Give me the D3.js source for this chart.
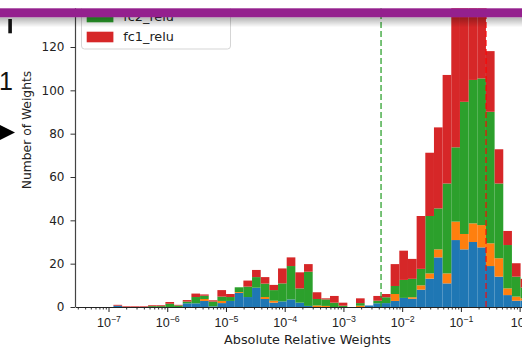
<!DOCTYPE html>
<html>
<head>
<meta charset="utf-8">
<script src="https://cdn.jsdelivr.net/npm/d3@7"></script>
<style>
  body { margin: 0; background: #fff; }
  svg { display: block; font-family: "DejaVu Sans", sans-serif; }
</style>
</head>
<body>
<div id="chart"></div>
<script>
// log-spaced histogram bins: log10 of first left edge and the bin step (in decades)
const binStartExp = -6.916;
const binStepExp = 0.1475;

// counts per bin, stacked bottom to top (blue, orange, green = fc2_relu, red = fc1_relu)
const blueCounts = [
  0.6, 0, 0, 0, 0, 0, 0, 0,
  1.7, 1.7, 2.8, 0.3, 1.8, 2.8, 6.5, 4.6, 8.9, 3.7,
  2.0, 2.6, 3.5, 2.0, 0.5, 0, 0, 0, 0, 0,
  0, 0.7, 1.7, 1.8, 2.8, 4.2, 3.8, 8.0, 13.1, 22.9,
  10.9, 30.9, 26.6, 30.0, 27.5, 18.9, 14.0, 5.5, 2.9, 3.0
];
const orangeCounts = [
  0, 0, 0, 0, 0, 0, 0, 0,
  0, 0, 0.9, 0, 1.0, 0, 0.4, 0, 0, 0.9,
  0.9, 0, 0, 0, 0, 0.7, 0.5, 0, 0, 0,
  0.6, 0, 0, 0, 3.2, 0, 0.7, 2.0, 2.4, 3.7,
  4.6, 8.5, 7.1, 8.6, 10.3, 10.5, 8.5, 3.1, 1.9, 1.0
];
const fc2Counts = [
  0, 0, 0, 0, 0.4, 0.4, 1.5, 0.7,
  0.8, 2.9, 1.5, 2.2, 2.0, 1.8, 2.2, 4.8, 4.9, 6.2,
  4.9, 8.3, 15.4, 6.6, 15.8, 3.0, 3.0, 2.0, 0.6, 0,
  1.2, 0, 1.2, 2.7, 3.7, 8.3, 8.5, 7.6, 26.5, 18.9,
  41.5, 34.3, 61.0, 66.2, 67.7, 60.7, 34.5, 20.0, 9.2, 5.0
];
const fc1Counts = [
  0.4, 0.3, 0.3, 0.3, 0.4, 0.4, 0.8, 0.3,
  0.7, 1.6, 0.6, 0.6, 3.0, 1.4, 0, 2.8, 3.3, 3.0,
  2.4, 6.9, 4.0, 7.4, 3.5, 3.1, 0.5, 3.1, 1.4, 0,
  2.2, 0, 2.2, 1.5, 10.1, 13.5, 9.2, 24.4, 29.2, 37.4,
  50.1, 66.3, 55.3, 50.2, 39.5, 28.0, 15.8, 6.5, 6.2, 4.0
];

const seriesKeys = ['blue', 'orange', 'fc2_relu', 'fc1_relu'];
const seriesColors = ['#1f77b4', '#ff7f0e', '#2ca02c', '#d62728'];
const legendItems = ['fc2_relu', 'fc1_relu'];

// threshold lines
const greenThreshold = 0.00437;
const redThreshold = 0.268;

const yTicks = [0, 20, 40, 60, 80, 100, 120];
const majorExps = [-7, -6, -5, -4, -3, -2, -1, 0];

const W = 522, H = 349;
const svg = d3.select('#chart').append('svg')
  .attr('width', W)
  .attr('height', H);

const x = d3.scaleLog()
  .domain([10 ** -7.562, 10 ** 0.049])
  .range([75.5, 522.5]);

const y = d3.scaleLinear()
  .domain([0, 120])
  .range([307, 47]);

// rows for the stack
const rows = blueCounts.map((b, i) => ({
  lo: 10 ** (binStartExp + i * binStepExp),
  hi: 10 ** (binStartExp + (i + 1) * binStepExp),
  blue: b,
  orange: orangeCounts[i],
  fc2_relu: fc2Counts[i],
  fc1_relu: fc1Counts[i]
}));

const stacked = d3.stack().keys(seriesKeys)(rows);

const bars = svg.append('g').attr('class', 'bars');
stacked.forEach((layer, li) => {
  bars.append('g')
    .attr('fill', seriesColors[li])
    .selectAll('rect')
    .data(layer.filter(d => d[1] - d[0] > 0))
    .enter()
    .append('rect')
    .attr('x', d => x(d.data.lo))
    .attr('width', d => x(d.data.hi) - x(d.data.lo))
    .attr('y', d => y(d[1]))
    .attr('height', d => y(d[0]) - y(d[1]));
});

// dashed threshold lines
svg.append('line')
  .attr('x1', x(greenThreshold)).attr('x2', x(greenThreshold))
  .attr('y1', y(0)).attr('y2', -60)
  .attr('stroke', '#2ca02c')
  .attr('stroke-opacity', 0.85)
  .attr('stroke-width', 1.5)
  .attr('stroke-dasharray', '6,3');

svg.append('line')
  .attr('x1', x(redThreshold)).attr('x2', x(redThreshold))
  .attr('y1', y(0)).attr('y2', -60)
  .attr('stroke', '#ff0000')
  .attr('stroke-opacity', 0.75)
  .attr('stroke-width', 1.5)
  .attr('stroke-dasharray', '6,3');

// x axis (log): minor ticks then major ticks
const minorVals = [];
for (let p = -8; p <= 0; p++) {
  for (let m = 2; m <= 9; m++) {
    const v = m * 10 ** p;
    if (v > x.domain()[0] && v < x.domain()[1]) minorVals.push(v);
  }
}

const xMinor = svg.append('g')
  .attr('transform', 'translate(0,' + y(0) + ')')
  .call(d3.axisBottom(x).tickValues(minorVals).tickSize(2.5).tickSizeOuter(0).tickFormat(''));
xMinor.select('.domain').remove();
xMinor.selectAll('line').attr('stroke', '#333');

const xMajor = svg.append('g')
  .attr('transform', 'translate(0,' + y(0) + ')')
  .call(d3.axisBottom(x).tickValues(majorExps.map(e => 10 ** e)).tickSize(5).tickSizeOuter(0).tickFormat(''));
xMajor.select('.domain').attr('stroke', '#222').attr('stroke-width', 1.2);
xMajor.selectAll('line').attr('stroke', '#222');

xMajor.selectAll('.tick').each(function (d) {
  const t = d3.select(this).append('text')
    .attr('y', 20)
    .attr('fill', '#222')
    .attr('font-size', '12.5px')
    .attr('text-anchor', 'middle');
  t.append('tspan').text('10');
  t.append('tspan')
    .attr('dy', -5.5)
    .attr('font-size', '8.8px')
    .text(String(Math.round(Math.log10(d))).replace('-', '\u2212'));
});

// y axis
const yAxisG = svg.append('g')
  .attr('transform', 'translate(75.5,0)')
  .call(d3.axisLeft(y).tickValues(yTicks).tickSize(5).tickSizeOuter(0).tickPadding(6));
yAxisG.select('.domain')
  .attr('d', 'M0,' + y(0) + 'V-60')
  .attr('stroke', '#444')
  .attr('stroke-width', 1.2);
yAxisG.selectAll('line').attr('stroke', '#333');
yAxisG.selectAll('text')
  .attr('fill', '#222')
  .attr('font-size', '12px')
  .attr('font-family', '"DejaVu Sans", sans-serif');

svg.append('text')
  .attr('transform', 'translate(31,130) rotate(-90)')
  .attr('text-anchor', 'middle')
  .attr('font-size', '12.3px')
  .attr('fill', '#222')
  .text('Number of Weights');

svg.append('text')
  .attr('x', 307.5)
  .attr('y', 344)
  .attr('text-anchor', 'middle')
  .attr('font-size', '12.8px')
  .attr('fill', '#222')
  .text('Absolute Relative Weights');

// legend (upper part is cut off by the banner)
const legend = svg.append('g');
legend.append('rect')
  .attr('x', 81.5).attr('y', -60)
  .attr('width', 149).attr('height', 109)
  .attr('rx', 3)
  .attr('fill', '#fff').attr('fill-opacity', 0.8)
  .attr('stroke', '#d5d5d5');

legendItems.forEach((name, i) => {
  const cy = 11.7 + i * 20;
  legend.append('rect')
    .attr('x', 86.7).attr('y', cy)
    .attr('width', 26.7).attr('height', 10.6)
    .attr('fill', seriesColors[seriesKeys.indexOf(name)]);
  legend.append('text')
    .attr('x', 123.3).attr('y', cy + 9.6)
    .attr('font-size', '12.8px')
    .attr('fill', '#222')
    .text(name);
});

// page artefacts around the crop: banner with shadow, cut glyphs and arrow
const defs = svg.append('defs');
const grad = defs.append('linearGradient')
  .attr('id', 'shadow').attr('x1', 0).attr('x2', 0).attr('y1', 0).attr('y2', 1);
grad.append('stop').attr('offset', '0%').attr('stop-color', '#000').attr('stop-opacity', 0.3);
grad.append('stop').attr('offset', '100%').attr('stop-color', '#000').attr('stop-opacity', 0);

svg.append('rect').attr('x', 0).attr('y', 0).attr('width', W).attr('height', 8.3).attr('fill', '#fff');
svg.append('rect').attr('x', 0).attr('y', 17.3).attr('width', W).attr('height', 10).attr('fill', 'url(#shadow)');
svg.append('rect').attr('x', 0).attr('y', 8.3).attr('width', W).attr('height', 9).attr('fill', '#94208e');

svg.append('rect').attr('x', 8.3).attr('y', 19).attr('width', 3.6).attr('height', 14.3).attr('fill', '#111');
svg.append('text')
  .attr('x', -1).attr('y', 90)
  .attr('font-family', '"Liberation Sans", sans-serif')
  .attr('font-size', '25px')
  .attr('fill', '#111')
  .text('1');
svg.append('path')
  .attr('d', 'M0,125L15,132.5L0,140Z')
  .attr('fill', '#000');
</script>
</body>
</html>
